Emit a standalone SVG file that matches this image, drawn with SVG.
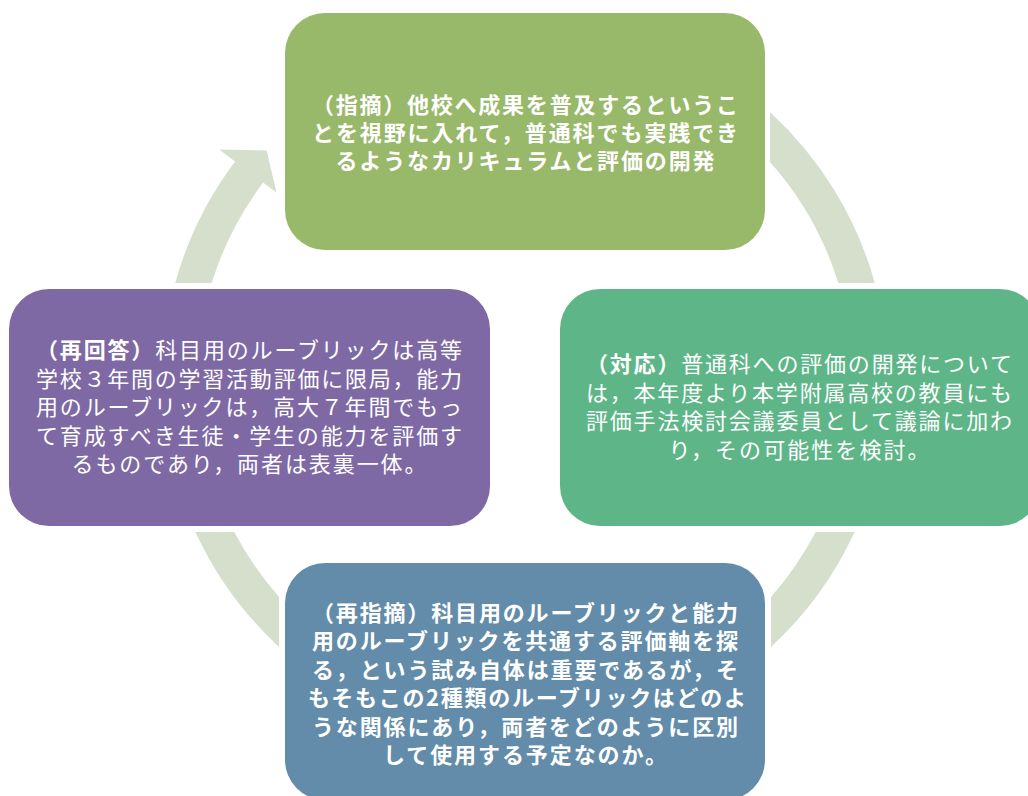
<svg xmlns="http://www.w3.org/2000/svg" width="1028" height="796" viewBox="0 0 1028 796">
<style>
.ring{fill:#D6DFCB;stroke:none}
.box{stroke:none}
.t{font-family:"Noto Sans CJK JP","Noto Sans CJK SC",sans-serif;font-size:22px;fill:#FFFFFF;text-anchor:middle}
.b{font-weight:700}
.n{font-weight:400}
</style>
<rect width="1028" height="796" fill="#FFFFFF"/>
<g id="connectors">
<path class="ring" d="M770,112.2 A363,363 0 0,1 874.8,283 L838.3,283 A328,328 0 0,0 770,161.9 Z"/>
<path class="ring" d="M854.6,532 A363,363 0 0,1 771,646.9 L771,596.9 A328,328 0 0,0 815.7,532 Z"/>
<path class="ring" d="M279,646.9 A363,363 0 0,1 195.4,532 L234.3,532 A328,328 0 0,0 279,596.9 Z"/>
<path class="ring" d="M175.2,283 A363,363 0 0,1 235.1,161.5 L219.1,149.5 L266.6,150.6 L276.6,192.8 L263.1,182.6 A328,328 0 0,0 211.7,283 Z"/>
</g>
<g id="node-top">
<rect class="box" x="285" y="13" width="480" height="237" rx="40" ry="40" fill="#98B86A"/>
<text class="t b" x="525" y="113" textLength="426" lengthAdjust="spacing">（指摘）他校へ成果を普及するというこ</text>
<text class="t b" x="525" y="141" textLength="426" lengthAdjust="spacing">とを視野に入れて，普通科でも実践でき</text>
<text class="t b" x="525" y="169" textLength="379" lengthAdjust="spacing">るようなカリキュラムと評価の開発</text>
</g>
<g id="node-right">
<rect class="box" x="560" y="289" width="480" height="237" rx="40" ry="40" fill="#5EB688"/>
<text class="t n" x="799" y="372" textLength="426" lengthAdjust="spacing"><tspan class="b">（対応）</tspan>普通科への評価の開発について</text>
<text class="t n" x="799" y="401" textLength="426" lengthAdjust="spacing">は，本年度より本学附属高校の教員にも</text>
<text class="t n" x="799" y="429" textLength="426" lengthAdjust="spacing">評価手法検討会議委員として議論に加わ</text>
<text class="t n" x="799" y="457.5" textLength="261" lengthAdjust="spacing">り，その可能性を検討。</text>
</g>
<g id="node-left">
<rect class="box" x="9" y="289" width="481" height="237" rx="40" ry="40" fill="#7E69A4"/>
<text class="t n" x="249" y="358" textLength="426" lengthAdjust="spacing"><tspan class="b">（再回答）</tspan>科目用のルーブリックは高等</text>
<text class="t n" x="249" y="386.5" textLength="426" lengthAdjust="spacing">学校３年間の学習活動評価に限局，能力</text>
<text class="t n" x="249" y="415" textLength="426" lengthAdjust="spacing">用のルーブリックは，高大７年間でもっ</text>
<text class="t n" x="249" y="443.5" textLength="426" lengthAdjust="spacing">て育成すべき生徒・学生の能力を評価す</text>
<text class="t n" x="249" y="471.5" textLength="355" lengthAdjust="spacing">るものであり，両者は表裏一体。</text>
</g>
<g id="node-bottom">
<rect class="box" x="285" y="563" width="480" height="237" rx="40" ry="40" fill="#628CAA"/>
<text class="t b" x="525" y="620.5" textLength="426" lengthAdjust="spacing">（再指摘）科目用のルーブリックと能力</text>
<text class="t b" x="525" y="649" textLength="426" lengthAdjust="spacing">用のルーブリックを共通する評価軸を探</text>
<text class="t b" x="525" y="677.5" textLength="426" lengthAdjust="spacing">る，という試み自体は重要であるが，そ</text>
<text class="t b" x="527" y="706" textLength="438" lengthAdjust="spacing">もそもこの2種類のルーブリックはどのよ</text>
<text class="t b" x="525" y="734.5" textLength="426" lengthAdjust="spacing">うな関係にあり，両者をどのように区別</text>
<text class="t b" x="525" y="763" textLength="284" lengthAdjust="spacing">して使用する予定なのか。</text>
</g>
</svg>
